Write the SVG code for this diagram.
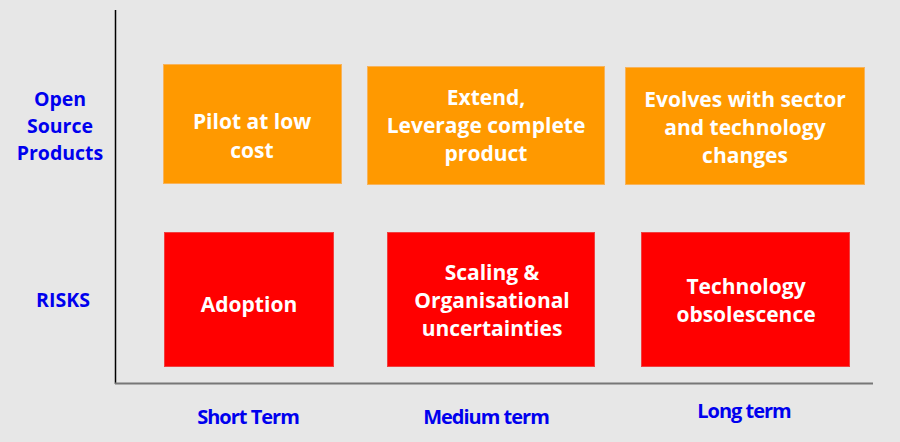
<svg xmlns="http://www.w3.org/2000/svg" width="900" height="442" viewBox="0 0 900 442">
<style>
.bg{fill:#e7e7e7}
.or{fill:#ff9900;stroke:#f8b35a;stroke-width:1}
.rd{fill:#ff0000;stroke:#f04040;stroke-width:1}
.bt{font-family:"Open Sans","Liberation Sans",sans-serif;font-weight:700;font-size:21px;fill:#ffffff;text-anchor:middle}
.lb{font-family:"Open Sans","Liberation Sans",sans-serif;font-weight:700;font-size:19.5px;fill:#0000ee;text-anchor:middle}
.ax{font-family:"Open Sans","Liberation Sans",sans-serif;font-weight:700;font-size:20px;fill:#0000ee;text-anchor:middle;letter-spacing:-1px}
</style>
<rect class="bg" x="0" y="0" width="900" height="442"/>
<g id="axes">
<line x1="115.5" y1="10" x2="115.5" y2="384" stroke="#000" stroke-width="1.5"/>
<line x1="115" y1="383.5" x2="873" y2="383.5" stroke="#777" stroke-width="2"/>
</g>
<g id="labels">
<text class="lb" x="60" y="106">Open</text>
<text class="lb" x="60" y="133">Source</text>
<text class="lb" x="60" y="160">Products</text>
<text class="lb" x="63" y="307">RISKS</text>
<text class="ax" x="248" y="424">Short Term</text>
<text class="ax" x="486" y="424">Medium term</text>
<text class="ax" x="744" y="418">Long term</text>
</g>
<g id="os-short">
<rect class="or" x="163.5" y="64.5" width="178" height="119"/>
<text class="bt" x="252" y="128.5">Pilot at low</text>
<text class="bt" x="252" y="157.5">cost</text>
</g>
<g id="os-medium">
<rect class="or" x="367.5" y="66.5" width="237" height="118"/>
<text class="bt" x="486" y="105">Extend,</text>
<text class="bt" x="486" y="133">Leverage complete</text>
<text class="bt" x="486" y="161">product</text>
</g>
<g id="os-long">
<rect class="or" x="625.5" y="67.5" width="239" height="117"/>
<text class="bt" x="745" y="107">Evolves with sector</text>
<text class="bt" x="745" y="135">and technology</text>
<text class="bt" x="745" y="163">changes</text>
</g>
<g id="risk-short">
<rect class="rd" x="164.5" y="232.5" width="169" height="134"/>
<text class="bt" x="249" y="312">Adoption</text>
</g>
<g id="risk-medium">
<rect class="rd" x="387.5" y="232.5" width="207" height="134"/>
<text class="bt" x="492" y="280">Scaling &amp;</text>
<text class="bt" x="492" y="308">Organisational</text>
<text class="bt" x="492" y="336">uncertainties</text>
</g>
<g id="risk-long">
<rect class="rd" x="641.5" y="232.5" width="208" height="134"/>
<text class="bt" x="746" y="294">Technology</text>
<text class="bt" x="746" y="322">obsolescence</text>
</g>
</svg>
